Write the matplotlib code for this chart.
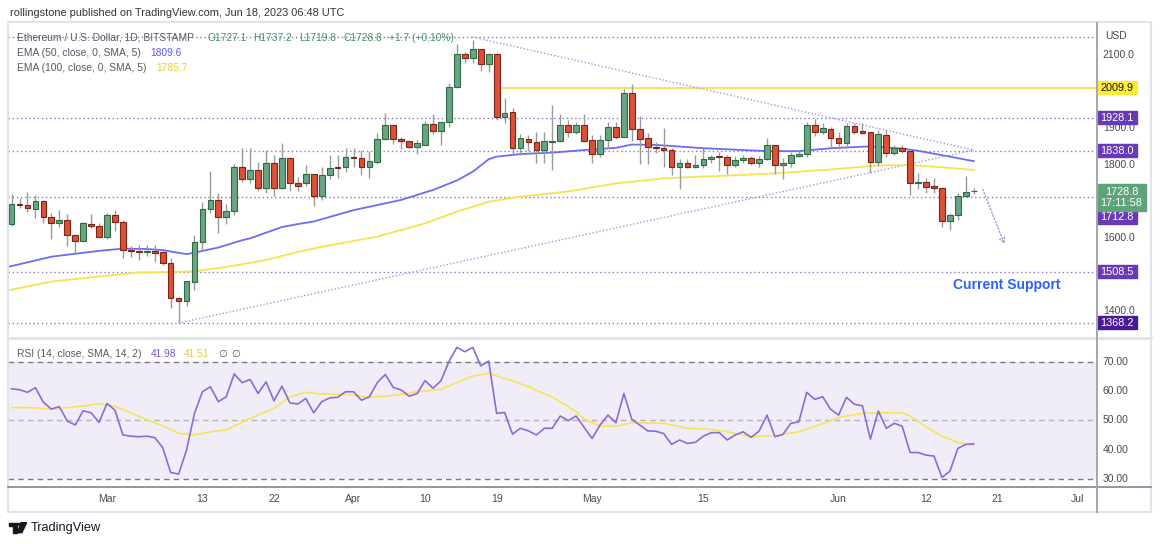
import numpy as np
import pandas as pd
import matplotlib
matplotlib.use("Agg")
import matplotlib.pyplot as plt
import matplotlib.dates as mdates
from matplotlib.patches import Rectangle, Polygon, Circle
from matplotlib.lines import Line2D

plt.rcParams['font.family'] = ['Liberation Sans', 'DejaVu Sans']

# ---- data (ETH/USD daily, Bitstamp) ----
dates = pd.date_range("2023-02-17", "2023-06-18", freq="D")
opens = [1637, 1693, 1690, 1678, 1702, 1658, 1642, 1649, 1607, 1591, 1639, 1633,
         1604, 1664, 1645, 1567, 1565, 1563, 1565, 1561, 1531, 1435, 1429, 1481, 1590, 1678, 1703, 1656,
         1675, 1793, 1762, 1785, 1737, 1804, 1737, 1817, 1749, 1749, 1774, 1715, 1773, 1794, 1794,
         1822, 1819, 1794, 1808, 1870, 1907, 1870, 1864, 1849, 1855, 1910, 1892, 1917, 2011, 2101,
         2090, 2117, 2074, 2102, 1931, 1943, 1845, 1870, 1861, 1840, 1863, 1866, 1908, 1890, 1908,
         1867, 1828, 1867, 1902, 1875, 1995, 1897, 1874, 1849, 1846, 1841, 1795, 1806, 1795, 1799,
         1815, 1824, 1820, 1799, 1812, 1819, 1804, 1816, 1854, 1799, 1804, 1825, 1829, 1908, 1890, 1897,
         1874, 1860, 1905, 1892, 1888, 1808, 1881, 1831, 1845, 1838, 1749, 1752, 1742, 1737, 1647,
         1663, 1715, 1727.1]
highs = [1720, 1708, 1725, 1717, 1704, 1667, 1676, 1665, 1609, 1645, 1665, 1642,
         1667, 1676, 1649, 1579, 1581, 1581, 1581, 1565, 1545, 1439, 1484, 1608, 1699, 1784, 1722, 1694,
         1802, 1845, 1845, 1808, 1840, 1826, 1858, 1822, 1767, 1799, 1774, 1795, 1826, 1826, 1846,
         1845, 1840, 1838, 1886, 1940, 1907, 1876, 1864, 1867, 1920, 1937, 1917, 2022, 2129, 2108,
         2141, 2117, 2104, 2104, 1981, 1954, 1885, 1881, 1890, 1890, 1963, 1938, 1922, 1917, 1938,
         1881, 1881, 1917, 1917, 2006, 2020, 1933, 1886, 1861, 1899, 1845, 1815, 1815, 1827,
         1845, 1826, 1836, 1826, 1824, 1826, 1824, 1824, 1872, 1854, 1817, 1835, 1840, 1917, 1924, 1915, 1904,
         1890, 1913, 1915, 1913, 1890, 1895, 1895, 1854, 1854, 1841, 1776, 1763, 1763, 1740, 1667,
         1723, 1770, 1737.2]
lows = [1634, 1681, 1672, 1654, 1640, 1596, 1631, 1579, 1560, 1591, 1626, 1599,
        1596, 1620, 1545, 1549, 1540, 1551, 1535, 1525, 1408, 1368, 1414, 1458, 1568, 1667, 1615, 1638,
        1662, 1754, 1749, 1727, 1724, 1715, 1735, 1729, 1729, 1743, 1687, 1704, 1761, 1763, 1781,
        1794, 1772, 1765, 1802, 1867, 1856, 1843, 1845, 1829, 1853, 1883, 1855, 1902, 2008, 2077,
        2077, 2057, 2052, 1923, 1915, 1826, 1826, 1838, 1806, 1804, 1786, 1863, 1875, 1884, 1863,
        1806, 1822, 1845, 1869, 1875, 1866, 1802, 1802, 1833, 1793, 1772, 1735, 1790, 1790,
        1790, 1804, 1784, 1775, 1793, 1804, 1799, 1793, 1813, 1775, 1761, 1795, 1822, 1822, 1878, 1883, 1849,
        1842, 1845, 1884, 1884, 1776, 1797, 1822, 1826, 1833, 1717, 1735, 1722, 1722, 1631, 1622,
        1649, 1712, 1719.8]
closes = [1693, 1690, 1681, 1702, 1658, 1642, 1649, 1607, 1593, 1642, 1633, 1604,
          1664, 1645, 1567, 1564, 1562, 1564, 1560, 1531, 1435, 1429, 1484, 1590, 1678, 1703, 1656, 1675,
          1793, 1762, 1785, 1737, 1804, 1737, 1817, 1749, 1743, 1774, 1715, 1773, 1792, 1790, 1822,
          1819, 1794, 1810, 1870, 1907, 1870, 1864, 1849, 1858, 1910, 1892, 1917, 2011, 2101, 2090,
          2117, 2074, 2102, 1931, 1940, 1846, 1874, 1861, 1840, 1865, 1866, 1908, 1890, 1908, 1866,
          1829, 1867, 1902, 1875, 1995, 1897, 1870, 1849, 1845, 1841, 1795, 1806, 1795, 1799,
          1815, 1822, 1820, 1799, 1813, 1819, 1804, 1816, 1854, 1799, 1804, 1826, 1829, 1908, 1890, 1899, 1872,
          1860, 1905, 1890, 1887, 1808, 1883, 1831, 1845, 1838, 1749, 1752, 1740, 1737, 1647, 1663,
          1715, 1726, 1728.8]

# EMA lines (day offset from first candle, value)
ema50_day = [-0.5, 5, 11, 14, 17, 19, 22, 23, 26, 29, 30, 34, 36, 38, 43, 49, 53, 56, 58, 60,
             61, 64, 68, 72, 76, 78, 81, 87, 95, 99, 103, 108, 112, 114, 118, 121]
ema50_val = [1521, 1549, 1565, 1571, 1570, 1567, 1556, 1560, 1574, 1594, 1599, 1630, 1638, 1645,
             1676, 1704, 1731, 1757, 1781, 1815, 1822, 1829, 1833, 1840, 1846, 1855, 1854, 1845,
             1837, 1837, 1845, 1850, 1844, 1838, 1822, 1809.6]
ema100_day = [-0.5, 5, 11, 16, 19, 23, 27, 32, 36, 39, 46, 52, 56, 60, 62, 64, 70, 76, 82, 95,
              103, 109, 113, 117, 121]
ema100_val = [1457, 1481, 1495, 1506, 1507, 1509, 1521, 1540, 1562, 1576, 1604, 1640, 1672, 1699,
              1706, 1713, 1727, 1749, 1763, 1775, 1787, 1798, 1799, 1793, 1785.7]

rsi = [60.8, 60.5, 59.6, 61.2, 56.2, 53.9, 54.7, 49.8, 48.4, 53.3, 52.6, 49.3,
       55.8, 53.5, 45.0, 44.6, 44.4, 44.6, 44.1, 40.7, 32.2, 31.6, 39.8, 52.4, 59.8, 61.5, 56.4,
       58.1, 65.9, 62.9, 64.0, 59.2, 63.2, 56.7, 61.7, 56.0, 55.6, 57.5, 52.6, 56.4, 57.7, 57.9, 59.8,
       59.8, 56.9, 58.1, 63.0, 65.7, 61.3, 60.4, 58.3, 59.2, 63.6, 61.0, 63.6, 70.1, 75.0, 73.5,
       75.0, 68.7, 70.3, 52.4, 52.7, 45.3, 47.3, 46.4, 45.0, 47.3, 47.3, 51.5, 49.9, 51.5, 47.6,
       43.8, 48.4, 51.8, 49.2, 59.2, 50.4, 48.4, 46.4, 46.3, 45.5, 41.8, 43.3, 42.1, 42.5, 44.6,
       45.8, 45.8, 43.3, 45.0, 46.1, 44.2, 46.3, 51.8, 44.4, 45.2, 49.0, 49.5, 59.6, 57.2, 58.1, 53.8,
       51.8, 57.9, 55.5, 55.0, 43.6, 53.2, 47.3, 49.0, 48.0, 39.0, 39.0, 38.1, 37.8, 30.5, 32.6,
       40.4, 41.8, 41.98]
rsi_ma_day = [0, 3, 5, 7, 9, 11, 13, 15, 17, 19, 21, 23, 25, 27, 30, 33, 35, 37, 39, 42, 45, 47,
              49, 51, 54, 56, 58, 60, 63, 65, 68, 71, 72, 74, 76, 78, 82, 85, 88, 90, 93, 96, 99,
              102, 104, 107, 109, 112, 113, 115, 117, 119, 121]
rsi_ma_val = [54.4, 54.3, 53.8, 54.4, 54.9, 55.7, 54.8, 52.6, 50.2, 48.2, 45.6, 45.0, 46.1, 46.7,
              50.7, 54.1, 58.1, 59.6, 59.0, 58.9, 57.9, 58.3, 58.9, 59.8, 60.6, 63.0, 65.2, 66.1,
              63.5, 61.5, 58.0, 53.0, 50.5, 48.0, 48.0, 49.2, 49.0, 47.3, 46.9, 46.1, 44.4, 44.8,
              46.1, 48.9, 51.0, 52.4, 52.6, 52.6, 51.5, 47.8, 44.6, 42.5, 41.51]

levels = [1928.1, 1838.0, 1712.8, 1508.5, 1368.2]
top_level = 2148
resistance = 2009.9
trend_down = (["2023-04-16", "2023-06-18"], [2148, 1840])
trend_up = (["2023-03-10", "2023-06-18"], [1368, 1840])
arrow_from = ("2023-06-19", 1740)
arrow_to = ("2023-06-22", 1576)

tick_dates = ["2023-03-01", "2023-03-13", "2023-03-22", "2023-04-01", "2023-04-10", "2023-04-19",
              "2023-05-01", "2023-05-15", "2023-06-01", "2023-06-12", "2023-06-21", "2023-07-01"]
tick_labels = ["Mar", "13", "22", "Apr", "10", "19", "May", "15", "Jun", "12", "21", "Jul"]
price_ticks = [2100, 1900, 1800, 1600, 1400]
rsi_ticks = [70, 60, 50, 40, 30]

# ---- layout helpers (pixel boxes) ----
W, H = 1160, 544
fig = plt.figure(figsize=(W / 100, H / 100), dpi=100)
fig.patch.set_facecolor("white")


def box(x0, y0, x1, y1):
    return [x0 / W, 1 - y1 / H, (x1 - x0) / W, (y1 - y0) / H]


def fpt(x, y):
    return (x / W, 1 - y / H)


ax = fig.add_axes(box(8, 23, 1097, 338))
rax = fig.add_axes(box(8, 338, 1097, 487), sharex=ax)
pax = fig.add_axes(box(1097, 23, 1150, 338))
rpax = fig.add_axes(box(1097, 338, 1150, 487))

xn = mdates.date2num(dates)
x0 = xn[0]
ylim = (1327.2, 2186.6)
rlim = (27.2, 78.2)
ax.set_xlim(x0 - 0.45, x0 + 136.5)
ax.set_ylim(*ylim)
rax.set_ylim(*rlim)
for a in (ax, rax):
    for s in a.spines.values():
        s.set_visible(False)
    a.set_yticks([])
ax.tick_params(axis="x", length=0, labelbottom=False)

# candles
o, h, l, c = map(np.array, (opens, highs, lows, closes))
up = c >= o
ax.vlines(xn, l, h, color="#9a9a9a", lw=1, zorder=3)
bh = np.maximum(np.abs(c - o), 1.8)
bb = np.minimum(o, c)
ax.bar(xn[up], bh[up], bottom=bb[up], width=0.72, color="#6aa583", edgecolor="#2e6b45", lw=0.8, zorder=4)
ax.bar(xn[~up], bh[~up], bottom=bb[~up], width=0.72, color="#dc5038", edgecolor="#7c2418", lw=0.8, zorder=4)

# EMAs
ax.plot(x0 + np.array(ema50_day), ema50_val, color="#6c6cf4", lw=1.3, zorder=2)
ax.plot(x0 + np.array(ema100_day), ema100_val, color="#f7e250", lw=1.3, zorder=2)

# horizontal levels
dot = (0, (1, 2))
for lv in levels + [top_level]:
    ax.axhline(lv, color="#8c73cc", lw=1, ls=dot, zorder=1)
ax.hlines(resistance, xn[61], x0 + 136.5, color="#f7e04b", lw=1.3, zorder=1)

# trend lines and arrow
for d, p in (trend_down, trend_up):
    ax.plot(mdates.date2num(pd.to_datetime(d)), p, color="#9b9bdc", lw=1, ls=(0, (1, 1.5)), zorder=1)
ax.annotate("", xy=(mdates.date2num(pd.Timestamp(arrow_to[0])), arrow_to[1]),
            xytext=(mdates.date2num(pd.Timestamp(arrow_from[0])), arrow_from[1]),
            arrowprops=dict(arrowstyle="->", color="#9b9bdc", lw=1, ls=(0, (1, 1.5)),
                            mutation_scale=9))
ax.text(x0 + 125.2, 1471.8, "Current Support", color="#2962ff", fontsize=10,
        fontweight="bold", ha="center", va="center")

# RSI pane
rax.axhspan(30, 70, color="#7e57c2", alpha=0.1, lw=0)
for lv, al in ((70, 1), (50, 0.5), (30, 1)):
    rax.axhline(lv, color="#787b86", lw=1, ls=(0, (4, 3)), alpha=al)
rax.plot(xn, rsi, color="#8c6bd2", lw=1.2, zorder=3)
rax.plot(x0 + np.array(rsi_ma_day), rsi_ma_val, color="#f7e35a", lw=1.2, zorder=2)
rax.set_xticks(mdates.date2num(pd.to_datetime(tick_dates)))
rax.set_xticklabels(tick_labels, fontsize=7.5, color="#4a4a4a")
rax.tick_params(axis="x", length=0, pad=5)

# price scale
pax.set_ylim(*ylim)
pax.set_xlim(0, 1)
pax.axis("off")
for v in price_ticks:
    pax.text(0.11, v, f"{v:.1f}", fontsize=7.5, color="#4a4a4a", va="center", zorder=1)
pax.text(0.15, 1 - 13 / 315, "USD", transform=pax.transAxes, fontsize=7.5, color="#4a4a4a", va="center")
ppx = (ylim[1] - ylim[0]) / 315


def tag(yc, txt, fc, tc="white", w=0.76, hpx=13):
    hh = hpx * ppx
    pax.add_patch(Rectangle((0, yc - hh / 2), w, hh, color=fc, zorder=3, clip_on=False))
    pax.text(w / 2, yc, txt, ha="center", va="center", color=tc, fontsize=7.8, zorder=4,
             linespacing=1.15)


tag(resistance, f"{resistance:.1f}", "#ffeb3b", tc="#131722")
tag(levels[0], f"{levels[0]:.1f}", "#673ab7")
tag(levels[1], f"{levels[1]:.1f}", "#673ab7")
tag(levels[2] - 20.5 * ppx, f"{levels[2]:.1f}", "#673ab7")
tag(levels[3], f"{levels[3]:.1f}", "#673ab7")
tag(levels[4], f"{levels[4]:.1f}", "#4a1a96")
tag(closes[-1] - 6.5 * ppx, f"{closes[-1]:.1f}\n17:11:58", "#5fa37b", w=0.92, hpx=27)

rpax.set_ylim(*rlim)
rpax.set_xlim(0, 1)
rpax.axis("off")
for v in rsi_ticks:
    rpax.text(0.11, v, f"{v:.2f}", fontsize=7.5, color="#4a4a4a", va="center")

# frame and separators
fig.add_artist(Rectangle(fpt(8, 512), 1143 / W, 490 / H, transform=fig.transFigure,
                         fill=False, edgecolor="#e0e3eb", lw=1.5))
fig.add_artist(Line2D([8 / W, 1151 / W], [1 - 338 / H] * 2, color="#e0e3eb", lw=2.2))
fig.add_artist(Line2D([8 / W, 1151 / W], [1 - 487 / H] * 2, color="#787b86", lw=1.1))
fig.add_artist(Line2D([1097 / W] * 2, [1 - 23 / H, 1 - 512 / H], color="#a3a6af", lw=1.4))

# legends
grey = "#555a66"
green = "#4a8f65"
fs = 7.4


def ftxt(x, y, s, col, size=fs, **kw):
    fig.text(x / W, 1 - y / H, s, color=col, fontsize=size, va="center", **kw)


ftxt(10, 13, "rollingstone published on TradingView.com, Jun 18, 2023 06:48 UTC", "#333333", size=7.9)
ftxt(17, 38, "Ethereum / U.S. Dollar, 1D, BITSTAMP", grey)
for xp, s in ((207, "O1727.1"), (253, "H1737.2"), (299, "L1719.8"), (344, "C1728.8"), (389, "+1.7 (+0.10%)")):
    ftxt(xp, 38, s, green)
ftxt(17, 53, "EMA (50, close, 0, SMA, 5)", grey)
ftxt(150, 53, "1809.6", "#5b5bf0")
ftxt(17, 68, "EMA (100, close, 0, SMA, 5)", grey)
ftxt(156, 68, "1785.7", "#f0c932")
ftxt(17, 354, "RSI (14, close, SMA, 14, 2)", grey)
ftxt(151, 354, "41.98", "#7e57c2")
ftxt(184, 354, "41.51", "#f0c932")
ftxt(218, 354, "\u2205", grey)
ftxt(231, 354, "\u2205", grey)

# TradingView logo
def px(pts):
    return [fpt(x, y) for x, y in pts]


fig.add_artist(Polygon(px([(8.5, 522.7), (16.5, 522.7), (16.5, 532.7), (12.5, 532.7), (12.5, 526), (8.5, 526)]),
                       transform=fig.transFigure, color="#131722"))
fig.add_artist(Circle(fpt(19.3, 524.3), 1.6 / W, transform=fig.transFigure, color="#131722"))
fig.add_artist(Polygon(px([(21, 522.7), (26.7, 522.7), (21.8, 532.7), (17.6, 532.7)]),
                       transform=fig.transFigure, color="#131722"))
fig.text(31 / W, 1 - 528 / H, "TradingView", fontsize=9.2, color="#131722", va="center")

fig.savefig("out.png", dpi=100)
